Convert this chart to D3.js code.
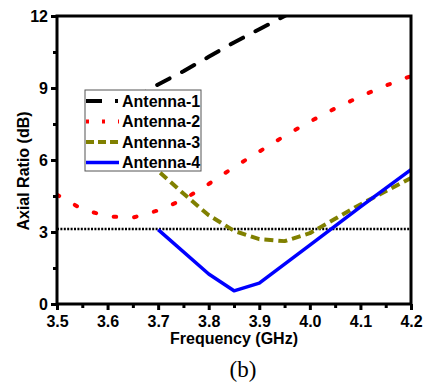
<!DOCTYPE html>
<html><head><meta charset="utf-8">
<script src="https://cdn.jsdelivr.net/npm/d3@7"></script>
<style>body{margin:0;background:#fff}svg{display:block}</style>
</head><body>
<script>
const freqs = [3.5,3.55,3.6,3.65,3.7,3.75,3.8,3.85,3.9,3.95,4.0,4.05,4.1,4.15,4.2];
const antenna1 = [{x:3.65,y:8.55},{x:3.7,y:9.15},{x:3.75,y:9.7},{x:3.8,y:10.3},{x:3.85,y:10.9},{x:3.9,y:11.45},{x:3.95,y:12.0},{x:4.0,y:12.6}];
const antenna2 = [4.55,3.95,3.65,3.6,3.9,4.35,5.0,5.7,6.35,7.0,7.6,8.15,8.65,9.1,9.5];
const antenna3 = [{x:3.65,y:6.8},{x:3.7,y:5.55},{x:3.75,y:4.6},{x:3.8,y:3.7},{x:3.85,y:3.05},{x:3.9,y:2.7},{x:3.95,y:2.62},{x:4.0,y:2.95},{x:4.05,y:3.55},{x:4.1,y:4.15},{x:4.15,y:4.7},{x:4.2,y:5.25}];
const antenna4 = [{x:3.7,y:3.1},{x:3.8,y:1.25},{x:3.85,y:0.55},{x:3.9,y:0.87},{x:4.0,y:2.45},{x:4.1,y:4.05},{x:4.2,y:5.6}];
const refLevel = 3.12;
const xTicks = [3.5,3.6,3.7,3.8,3.9,4.0,4.1,4.2];
const yTicks = [0,3,6,9,12];
const legendLabels = ["Antenna-1","Antenna-2","Antenna-3","Antenna-4"];

const W=425,H=387;
const m={l:57,t:16,r:411,b:304};
const svg=d3.select("body").append("svg").attr("width",W).attr("height",H);
const x=d3.scaleLinear().domain([3.5,4.2]).range([m.l,m.r]);
const y=d3.scaleLinear().domain([0,12]).range([m.b,m.t]);
const font="Arial, 'Liberation Sans', sans-serif";

svg.append("clipPath").attr("id","clip").append("rect")
  .attr("x",m.l).attr("y",m.t).attr("width",m.r-m.l).attr("height",m.b-m.t);

const line=d3.line().x(d=>x(d.x)).y(d=>y(d.y));
const g=svg.append("g").attr("clip-path","url(#clip)");

// reference dotted line
g.append("path").attr("d",line([{x:3.5,y:refLevel},{x:4.2,y:refLevel}]))
  .attr("stroke","#000").attr("stroke-width",2.5).attr("stroke-dasharray","2,1.4").attr("fill","none");

const a2=freqs.map((f,i)=>({x:f,y:antenna2[i]}));
const styles=[
  {data:antenna1,color:"#000",w:4,dash:"14,14",cap:"round"},
  {data:a2,color:"#ff0000",w:4,dash:"2.5,18",cap:"round"},
  {data:antenna3,color:"#808000",w:4,dash:"9,5",cap:"butt"},
  {data:antenna4,color:"#0000ff",w:3.5,dash:null,cap:"butt"}
];
styles.forEach(s=>{
  g.append("path").attr("d",line(s.data)).attr("fill","none")
   .attr("stroke",s.color).attr("stroke-width",s.w).attr("stroke-linecap",s.cap)
   .attr("stroke-linejoin","round")
   .attr("stroke-dasharray",s.dash);
});

// axes
const xAxis=svg.append("g").attr("transform",`translate(0,${m.b})`)
  .call(d3.axisBottom(x).tickValues(xTicks).tickFormat(d3.format(".1f")).tickSize(6).tickPadding(6));
const xMinor=svg.append("g").attr("transform",`translate(0,${m.b})`)
  .call(d3.axisBottom(x).tickValues(xTicks.slice(0,-1).map(v=>v+0.05)).tickFormat("").tickSize(4));
const yAxis=svg.append("g").attr("transform",`translate(${m.l},0)`)
  .call(d3.axisLeft(y).tickValues(yTicks).tickSize(6).tickPadding(3));
const yMinor=svg.append("g").attr("transform",`translate(${m.l},0)`)
  .call(d3.axisLeft(y).tickValues(yTicks.slice(0,-1).map(v=>v+1.5)).tickFormat("").tickSize(4));
[xAxis,xMinor,yAxis,yMinor].forEach(a=>{
  a.select(".domain").remove();
  a.selectAll("line").attr("stroke","#000").attr("stroke-width",3);
  a.selectAll("text").attr("font-family",font).attr("font-weight","bold").attr("font-size",16).attr("fill","#000");
});

svg.append("rect").attr("x",m.l).attr("y",m.t).attr("width",m.r-m.l).attr("height",m.b-m.t)
  .attr("fill","none").attr("stroke","#000").attr("stroke-width",3);

// legend
const lg=svg.append("g").attr("transform","translate(85,90)");
lg.append("rect").attr("x",0).attr("y",0).attr("width",116).attr("height",81)
  .attr("fill","#fff").attr("stroke","#555").attr("stroke-width",1);
const legDash=["16,13,3,10","3,13","8,4",null];
legendLabels.forEach((lab,i)=>{
  const yy=11+i*20.5;
  lg.append("line").attr("x1",1).attr("x2",34).attr("y1",yy).attr("y2",yy)
    .attr("stroke",styles[i].color).attr("stroke-width",styles[i].w)
    .attr("stroke-linecap","butt")
    .attr("stroke-dasharray",legDash[i]);
  lg.append("text").attr("x",37).attr("y",yy).attr("dy","0.36em").text(lab)
    .attr("font-family",font).attr("font-weight","bold").attr("font-size",16);
});

// labels
svg.append("text").attr("x",234).attr("y",344).attr("text-anchor","middle")
  .attr("font-family",font).attr("font-weight","bold").attr("font-size",16).text("Frequency (GHz)");
svg.append("text").attr("transform","translate(29,171) rotate(-90)").attr("text-anchor","middle")
  .attr("font-family",font).attr("font-weight","bold").attr("font-size",16).text("Axial Ratio (dB)");
svg.append("text").attr("x",243).attr("y",377).attr("text-anchor","middle")
  .attr("font-family","'Times New Roman','Liberation Serif',serif").attr("font-size",23).text("(b)");
</script>
</body></html>
